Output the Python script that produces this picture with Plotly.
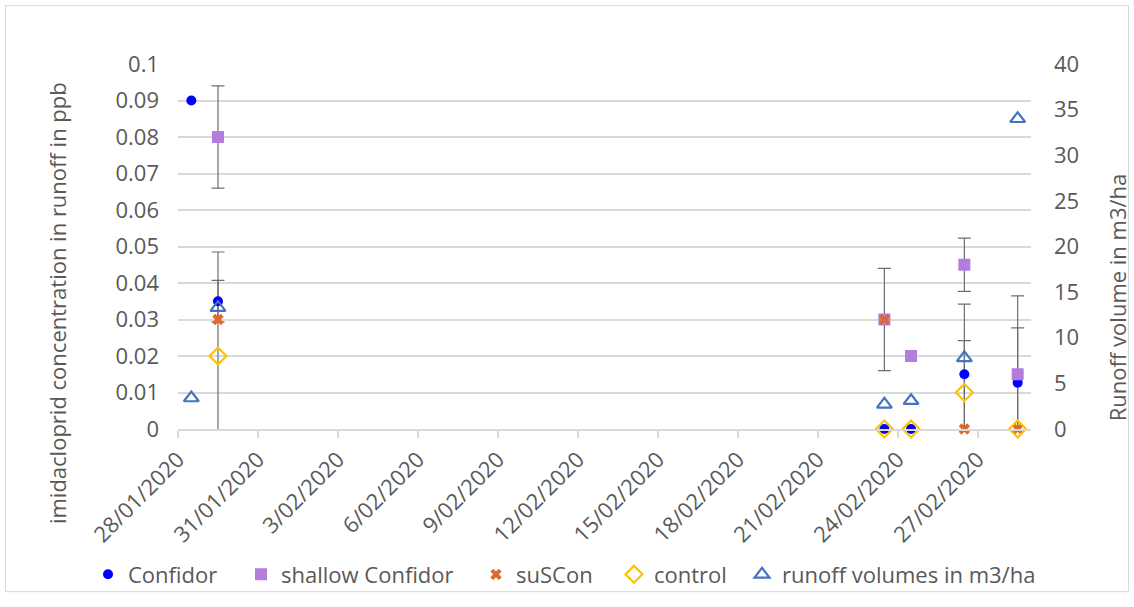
import plotly.graph_objects as go
from datetime import datetime, timedelta

# Sampling days (runoff events)
sample_dates = ["2020-01-28", "2020-01-29", "2020-02-23", "2020-02-24", "2020-02-26", "2020-02-28"]

# Imidacloprid concentration in runoff (ppb) and standard errors per treatment
confidor = [0.09, 0.035, 0.0, 0.0, 0.015, 0.0127]
confidor_err = [0, 0.0057, 0, 0, 0.0192, 0.015]

shallow_confidor = [None, 0.08, 0.03, 0.02, 0.045, 0.015]
shallow_err = [0, 0.014, 0.014, 0, 0.0073, 0.0215]

suscon = [None, 0.03, 0.03, None, 0.0, 0.0]
suscon_err = [0, 0, 0, 0, 0, 0]

control = [None, 0.02, 0.0, 0.0, 0.01, 0.0]
control_err = [0, 0.0285, 0, 0, 0.0142, 0]

# Runoff volume (m3/ha), secondary axis
runoff_volume = [3.4, 13.3, 2.7, 3.1, 7.8, 34.0]

# Date-axis tick labels, every 3 days
tick_dates = ["2020-01-28", "2020-01-31", "2020-02-03", "2020-02-06", "2020-02-09",
              "2020-02-12", "2020-02-15", "2020-02-18", "2020-02-21", "2020-02-24", "2020-02-27"]
tick_labels = ["28/01/2020", "31/01/2020", "3/02/2020", "6/02/2020", "9/02/2020",
               "12/02/2020", "15/02/2020", "18/02/2020", "21/02/2020", "24/02/2020", "27/02/2020"]

FONT = "Open Sans"
TXT = "#595959"
GRID = "#D9D9D9"
ERR = "#6E6E6E"

# plot-area geometry (pixels)
W, H = 1134, 607
L, R, T, B = 178, 1031, 64, 436.5
pw, ph = R - L, B - T


def px_x(p):
    return (p - L) / pw


def px_y(p):
    return (B - p) / ph


# points sit in the middle of their day, as on a day-based date axis
x_mid = [datetime.strptime(d, "%Y-%m-%d") + timedelta(hours=12) for d in sample_dates]

fig = go.Figure()


def add_error_trace(values, errors):
    xs, ys, es = [], [], []
    for x, v, e in zip(x_mid, values, errors):
        if v is not None and e:
            xs.append(x)
            ys.append(v)
            es.append(e)
    if xs:
        fig.add_trace(go.Scatter(
            x=xs, y=ys, mode="markers", showlegend=False, hoverinfo="skip",
            marker=dict(size=1, opacity=0),
            error_y=dict(type="data", array=es, visible=True, color=ERR,
                         thickness=1.2, width=6.5),
            cliponaxis=True,
        ))


# error bars first, so markers sit on top
add_error_trace(confidor, confidor_err)
add_error_trace(shallow_confidor, shallow_err)
add_error_trace(suscon, suscon_err)
add_error_trace(control, control_err)

fig.add_trace(go.Scatter(
    x=x_mid, y=confidor, mode="markers", name="Confidor", cliponaxis=False,
    legend="legend",
    marker=dict(symbol="circle", size=10, color="#0000FF"),
))
fig.add_trace(go.Scatter(
    x=x_mid, y=shallow_confidor, mode="markers", name="shallow Confidor", cliponaxis=False,
    legend="legend2",
    marker=dict(symbol="square", size=12, color="#B47CDC"),
))
fig.add_trace(go.Scatter(
    x=x_mid, y=suscon, mode="markers", name="suSCon", cliponaxis=False,
    legend="legend3",
    marker=dict(symbol="x", size=10, color="#E2672B", line=dict(width=0)),
))
fig.add_trace(go.Scatter(
    x=x_mid, y=control, mode="markers", name="control", cliponaxis=False,
    legend="legend4",
    marker=dict(symbol="diamond-open", size=13, color="#FFC000",
                line=dict(width=2.2, color="#FFC000")),
))
fig.add_trace(go.Scatter(
    x=x_mid, y=runoff_volume, mode="markers", name="runoff volumes in m3/ha",
    yaxis="y2", cliponaxis=False, legend="legend5",
    marker=dict(symbol="triangle-up-open", size=13, color="#4472C4",
                line=dict(width=2.2, color="#4472C4")),
))


def legend_at(px_left):
    return dict(
        orientation="h", x=px_x(px_left), y=px_y(585), xanchor="left", yanchor="middle",
        font=dict(size=22, color=TXT), bgcolor="rgba(0,0,0,0)",
    )


fig.update_layout(
    width=W, height=H, autosize=False,
    margin=dict(l=L, r=W - R, t=T, b=H - B, pad=0),
    paper_bgcolor="white", plot_bgcolor="white",
    font=dict(family=FONT, size=22, color=TXT),
    xaxis=dict(
        type="date",
        range=["2020-01-28", "2020-02-29"],
        tickmode="array", tickvals=tick_dates, ticktext=tick_labels,
        tickangle=-45, tickfont=dict(size=22, color=TXT),
        showgrid=False, zeroline=False,
        showline=True, linecolor=GRID, linewidth=2,
        ticks="outside", ticklen=7, tickwidth=2, tickcolor=GRID,
    ),
    yaxis=dict(
        range=[0, 0.1], dtick=0.01, tick0=0,
        showgrid=True, gridcolor=GRID, gridwidth=2,
        zeroline=False, showline=False, ticks="",
        tickfont=dict(size=22, color=TXT), ticklabelstandoff=18,
    ),
    yaxis2=dict(
        range=[0, 40], dtick=5, tick0=0, overlaying="y", side="right",
        showgrid=False, zeroline=False, showline=False, ticks="",
        tickfont=dict(size=22, color=TXT), ticklabelstandoff=22,
    ),
    legend=legend_at(88),
    legend2=legend_at(241),
    legend3=legend_at(476),
    legend4=legend_at(614),
    legend5=legend_at(742),
    showlegend=True,
    annotations=[
        dict(text="imidacloprid concentration in runoff in ppb", textangle=-90,
             x=px_x(57), y=px_y(308), xref="paper", yref="paper",
             showarrow=False, font=dict(size=22, color=TXT),
             xanchor="center", yanchor="middle"),
        dict(text="Runoff volume in m3/ha", textangle=-90,
             x=px_x(1117), y=px_y(302), xref="paper", yref="paper",
             showarrow=False, font=dict(size=22, color=TXT),
             xanchor="center", yanchor="middle"),
    ],
    shapes=[
        dict(type="rect", xref="paper", yref="paper",
             x0=px_x(5.5), x1=px_x(1128.5), y0=px_y(602.5), y1=px_y(4.5),
             line=dict(color=GRID, width=1), fillcolor="rgba(0,0,0,0)", layer="below"),
    ],
)

fig.write_html("out.html")
